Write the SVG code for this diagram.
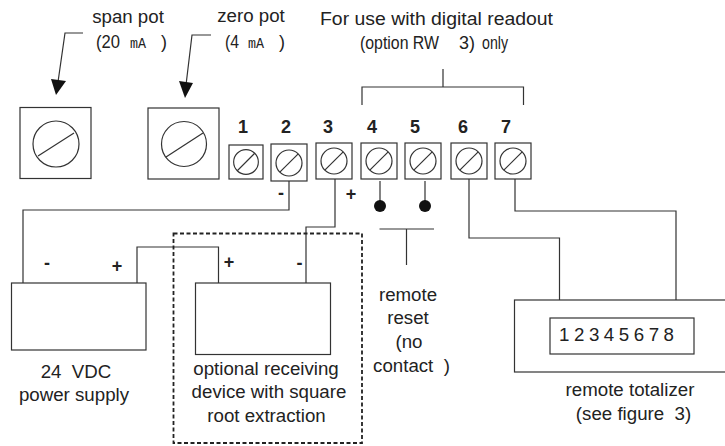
<svg xmlns="http://www.w3.org/2000/svg" width="725" height="446" viewBox="0 0 725 446">
<style>
text{font-family:"Liberation Sans",Arial,sans-serif;font-size:18.7px;fill:#222;text-anchor:middle;white-space:pre}
.n{font-weight:bold;font-size:18px}
.l{text-anchor:start;font-size:18px}
.m{text-anchor:start;font-family:"Liberation Mono",monospace;font-size:14px}
.b{fill:#fff;stroke:#333;stroke-width:1.2}
.c{fill:none;stroke:#333;stroke-width:1.2}
.w{fill:none;stroke:#333;stroke-width:1.2}
.d{fill:#111;stroke:none}
</style>
<defs>
<g id="t"><circle class="c" r="13"/><line class="c" x1="-9.2" y1="9.2" x2="9.2" y2="-9.2"/></g>
</defs>
<rect width="725" height="446" fill="#fff"/>
<g id="connectors">
<path class="w" d="M83 33H65L58 82"/><path class="d" d="M51 79L66 81L56 95Z"/>
<path class="w" d="M211 35H192L186 85"/><path class="d" d="M179 81L193 83L185 98Z"/>
<path class="w" d="M362 105V87H523.500V105M443 69V87"/>
<path class="w" d="M289 181V210H23V283"/>
<path class="w" d="M335 177V227H306V283"/>
<path class="w" d="M137 283V247H218.500V283"/>
<path class="w" d="M380 181V206M425 181V206"/>
<path class="w" d="M379.500 229H434M406.500 229V265"/>
<path class="w" d="M469 179V238H559.500V300"/>
<path class="w" d="M515 177V211H676V300"/>
</g>
<g id="span-pot"><rect class="b" x="20" y="107.500" width="71" height="71"/><circle class="c" cx="56" cy="144" r="23"/><line class="c" x1="38" y1="156" x2="74" y2="133"/>
<text x="128" y="23">span pot</text><text class="l" x="96" y="48" textLength="24" lengthAdjust="spacingAndGlyphs">(20</text><text class="m" x="130" y="48" textLength="16" lengthAdjust="spacingAndGlyphs">mA</text><text class="l" x="161" y="48">)</text></g>
<g id="zero-pot"><rect class="b" x="148" y="108" width="71" height="71"/><circle class="c" cx="184" cy="144" r="22.500"/><line class="c" x1="166" y1="157" x2="203" y2="133"/>
<text x="251" y="22">zero pot</text><text class="l" x="225" y="48" textLength="14" lengthAdjust="spacingAndGlyphs">(4</text><text class="m" x="248" y="48" textLength="16" lengthAdjust="spacingAndGlyphs">mA</text><text class="l" x="279" y="48">)</text></g>
<g id="terminal-1"><rect class="b" x="229" y="145" width="34" height="34"/><use href="#t" transform="translate(246 162) scale(.95)"/><text class="n" x="243" y="133">1</text></g>
<g id="terminal-2"><rect class="b" x="271" y="144" width="36" height="37"/><use href="#t" x="289" y="163"/><text class="n" x="286" y="133">2</text></g>
<g id="terminal-3"><rect class="b" x="316" y="143" width="36" height="36"/><use href="#t" x="334" y="161"/><text class="n" x="328" y="133">3</text></g>
<g id="terminal-4"><rect class="b" x="361" y="143" width="36" height="36"/><use href="#t" x="379" y="161"/><text class="n" x="372" y="133">4</text></g>
<g id="terminal-5"><rect class="b" x="405" y="143" width="36" height="36"/><use href="#t" x="423" y="161"/><text class="n" x="415" y="133">5</text></g>
<g id="terminal-6"><rect class="b" x="451" y="143" width="36" height="36"/><use href="#t" x="469" y="161"/><text class="n" x="463" y="133">6</text></g>
<g id="terminal-7"><rect class="b" x="495" y="143" width="36" height="36"/><use href="#t" x="513" y="161"/><text class="n" x="506" y="133">7</text></g>
<g id="readout-note"><text x="436.500" y="25" textLength="233" lengthAdjust="spacingAndGlyphs">For use with digital readout</text><text class="l" x="360" y="49" textLength="79" lengthAdjust="spacingAndGlyphs">(option RW</text><text class="l" x="459" y="49" textLength="16" lengthAdjust="spacingAndGlyphs">3)</text><text class="l" x="482" y="49" textLength="26" lengthAdjust="spacingAndGlyphs">only</text></g>
<g id="terminal-marks"><text class="n" x="281" y="199">-</text><text class="n" x="351" y="200">+</text></g>
<g id="reset-contacts"><circle class="d" cx="380" cy="206" r="6"/><circle class="d" cx="425" cy="206" r="6"/></g>
<g id="remote-reset"><text x="408" y="301">remote</text><text x="408" y="324">reset</text><text x="409" y="348">(no</text><text x="411.500" y="372">contact  )</text></g>
<g id="power-supply"><rect class="b" x="11.500" y="283" width="134.500" height="67"/><text class="n" x="47" y="269">-</text><text class="n" x="117" y="272">+</text>
<text x="76" y="378">24  VDC</text><text x="74" y="401">power supply</text></g>
<g id="receiver"><rect class="b" x="195.500" y="283" width="135" height="71.500"/><text class="n" x="229" y="268">+</text><text class="n" x="299.500" y="269">-</text>
<text x="266" y="375">optional receiving</text><text x="269" y="398">device with square</text><text x="266.500" y="422">root extraction</text></g>
<g id="optional-box"><rect x="173.500" y="233.500" width="188.500" height="209.500" fill="none" stroke="#222" stroke-width="1.800" stroke-dasharray="4 2.500"/></g>
<g id="totalizer"><rect class="b" x="514.500" y="300" width="215" height="72"/><rect class="b" x="550" y="318" width="144" height="36"/>
<text x="616.500" y="341" textLength="115" lengthAdjust="spacing">1 2 3 4 5 6 7 8</text>
<text x="630" y="396">remote totalizer</text><text x="633.500" y="420">(see figure  3)</text></g>
</svg>
